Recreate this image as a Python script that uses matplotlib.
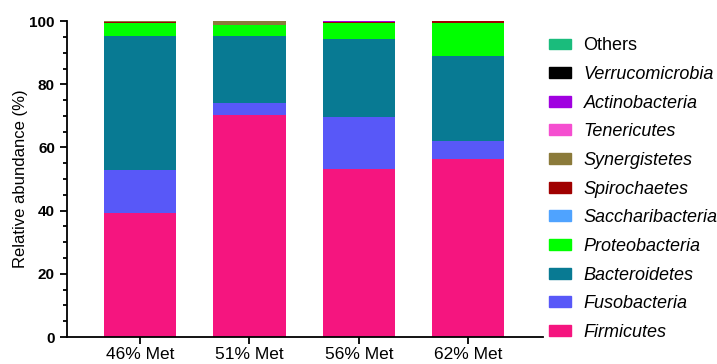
import matplotlib.pyplot as plt
import numpy as np
from matplotlib.ticker import MultipleLocator
from matplotlib.patches import Patch

plt.rcParams['font.family'] = ['Liberation Sans', 'DejaVu Sans']

groups = ['46% Met', '51% Met', '56% Met', '62% Met']

# relative abundance (%) per phylum, stacked bottom to top
phyla = ['Firmicutes', 'Fusobacteria', 'Bacteroidetes', 'Proteobacteria',
         'Saccharibacteria', 'Spirochaetes', 'Synergistetes', 'Tenericutes',
         'Actinobacteria', 'Verrucomicrobia', 'Others']
firmicutes = [39.3, 70.3, 53.1, 56.2]
fusobacteria = [13.7, 3.7, 16.5, 5.7]
bacteroidetes = [42.3, 21.3, 24.7, 27.0]
proteobacteria = [4.0, 3.4, 5.2, 10.4]
saccharibacteria = [0.05, 0.05, 0.02, 0.05]
spirochaetes = [0.45, 0.15, 0.05, 0.55]
synergistetes = [0.1, 1.0, 0.03, 0.05]
tenericutes = [0.05, 0.05, 0.2, 0.03]
actinobacteria = [0.05, 0.05, 0.2, 0.02]
verrucomicrobia = [0.0, 0.0, 0.0, 0.0]
others = [0.0, 0.0, 0.0, 0.0]

series = [firmicutes, fusobacteria, bacteroidetes, proteobacteria,
          saccharibacteria, spirochaetes, synergistetes, tenericutes,
          actinobacteria, verrucomicrobia, others]
colors = ['#F5157F', '#5858F8', '#087A93', '#00FF00', '#4FA3FF', '#A00000',
          '#8B7A3A', '#F54FD0', '#A000E0', '#000000', '#1ABC7C']

fig = plt.figure(figsize=(7.17, 3.64), dpi=100)
ax = fig.add_axes([0.093, 0.074, 0.664, 0.868])

x = np.arange(len(groups))
bottom = np.zeros(len(groups))
for vals, c in zip(series, colors):
    ax.bar(x, vals, width=0.66, bottom=bottom, color=c, edgecolor='none')
    bottom += np.array(vals)

ax.set_xlim(-0.67, 3.68)
ax.set_ylim(0, 100)
ax.yaxis.set_major_locator(MultipleLocator(20))
ax.yaxis.set_minor_locator(MultipleLocator(5))
ax.set_xticks(x)
ax.set_xticklabels(groups, fontsize=12.5)
for lbl in ax.get_yticklabels():
    lbl.set_fontweight('bold')
    lbl.set_fontsize(11)
ax.set_ylabel('Relative abundance (%)', fontsize=12, labelpad=1)

for s in ['top', 'right']:
    ax.spines[s].set_visible(False)
for s in ['left', 'bottom']:
    ax.spines[s].set_linewidth(1.3)
ax.tick_params(axis='both', which='major', width=1.3, length=5)
ax.tick_params(axis='x', which='major', pad=2)
ax.tick_params(axis='y', which='minor', width=1.3, length=3)

handles = [Patch(color=c, label=p) for p, c in zip(phyla, colors)][::-1]
leg = fig.legend(handles=handles, loc='upper left', bbox_to_anchor=(0.7435, 0.942),
                 frameon=False, fontsize=13, handlelength=1.22, handleheight=0.55,
                 labelspacing=0.645, handletextpad=0.67)
for t in leg.get_texts():
    if t.get_text() != 'Others':
        t.set_fontstyle('italic')

fig.savefig('out.png', dpi=100)
